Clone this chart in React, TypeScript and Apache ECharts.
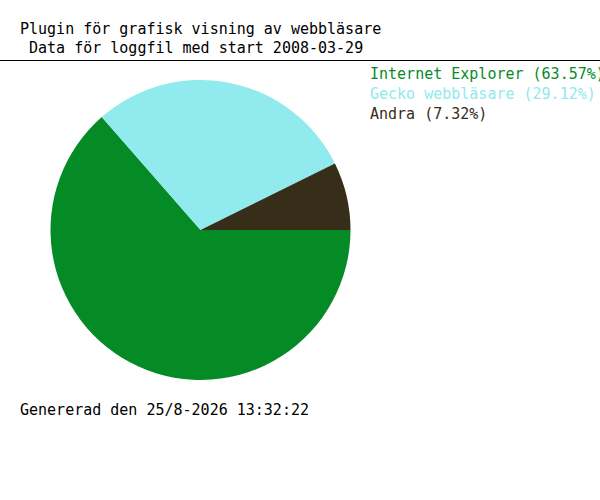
import React, { useEffect, useRef } from "react";
import * as echarts from "echarts";

const titleLines = [
  "Plugin för grafisk visning av webbläsare",
  " Data för loggfil med start 2008-03-29",
];
const categories = ["Internet Explorer", "Gecko webbläsare", "Andra"];
const values = [63.57, 29.12, 7.32];
const colors = ["#058b26", "#90eaee", "#372e19"];
const footer = "Genererad den 25/8-2026 13:32:22";

const FONT = "'DejaVu Sans Mono', 'Liberation Mono', monospace";

export default function App() {
  const ref = useRef<HTMLDivElement>(null);
  useEffect(() => {
    if (!ref.current) return;
    const chart = echarts.init(ref.current, undefined, { renderer: "svg" });
    const texts: any[] = [];
    titleLines.forEach((t, i) => {
      texts.push({
        type: "text",
        x: 20,
        y: 29 + i * 19,
        style: { text: t, fill: "#000", font: `15px ${FONT}`, verticalAlign: "middle", align: "left" },
      });
    });
    categories.forEach((c, i) => {
      texts.push({
        type: "text",
        x: 370,
        y: 74 + i * 20,
        style: { text: `${c} (${values[i].toFixed(2)}%)`, fill: colors[i], font: `15px ${FONT}`, verticalAlign: "middle", align: "left" },
      });
    });
    texts.push({
      type: "text",
      x: 20,
      y: 409.5,
      style: { text: footer, fill: "#000", font: `15px ${FONT}`, verticalAlign: "middle", align: "left" },
    });
    texts.push({
      type: "line",
      shape: { x1: 0, y1: 60.5, x2: 600, y2: 60.5 },
      style: { stroke: "#000", lineWidth: 1 },
    });
    chart.setOption({
      animation: false,
      backgroundColor: "#fff",
      graphic: texts,
      series: [
        {
          type: "pie",
          center: [200.5, 230],
          radius: 150,
          startAngle: 0,
          clockwise: true,
          label: { show: false },
          labelLine: { show: false },
          emphasis: { disabled: true },
          silent: true,
          itemStyle: { borderWidth: 0 },
          data: categories.map((c, i) => ({ name: c, value: values[i], itemStyle: { color: colors[i] } })),
        },
      ],
    });
    return () => chart.dispose();
  }, []);
  return <div ref={ref} style={{ position: "absolute", left: 0, top: 0, width: 600, height: 500 }} />;
}
